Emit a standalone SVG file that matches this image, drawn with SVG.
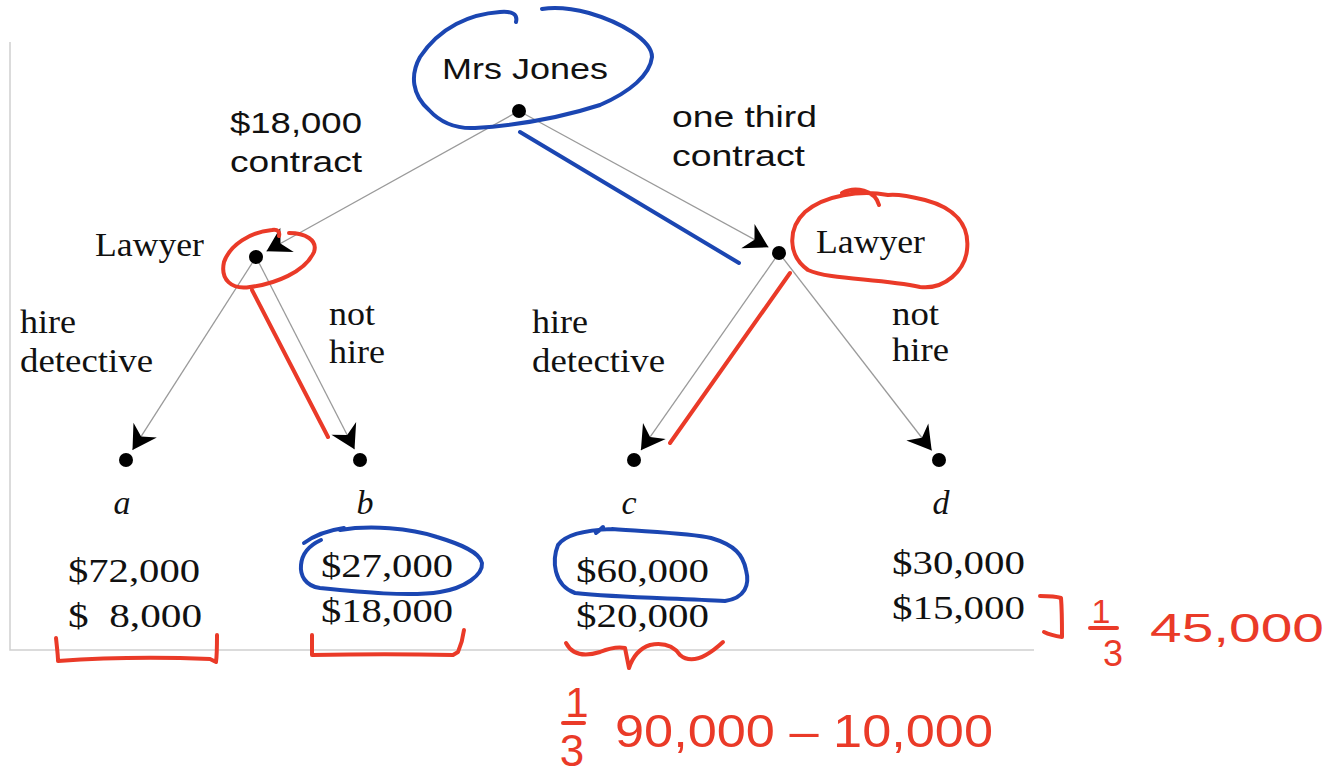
<svg xmlns="http://www.w3.org/2000/svg" width="1328" height="778" viewBox="0 0 1328 778">
<style>
.sans{font-family:"Liberation Sans",Arial,sans-serif;font-size:30px;fill:#111}
.serif{font-family:"Liberation Serif","Times New Roman",serif;font-size:34px;fill:#111}
.ital{font-family:"Liberation Serif","Times New Roman",serif;font-size:34px;font-style:italic;fill:#111}
.edge{stroke:#9a9a9a;stroke-width:1.3;fill:none;marker-end:url(#arr)}
.dot{fill:#000}
.frame{stroke:#d0d0d0;stroke-width:1.5;fill:none}
.blue{stroke:#1b46b2;stroke-width:4;fill:none;stroke-linecap:round;stroke-linejoin:round}
.red{stroke:#ea3a28;stroke-width:4;fill:none;stroke-linecap:round;stroke-linejoin:round}
.hand{font-family:"Liberation Sans",Arial,sans-serif;fill:#ea3a28}
</style>
<defs>
<marker id="arr" markerUnits="userSpaceOnUse" markerWidth="28" markerHeight="32" viewBox="-24 -15 26 30" refX="0" refY="0" orient="auto">
<path d="M0,0 L-22,-13 L-15,0 L-22,13 Z" fill="#000"/>
</marker>
</defs>
<rect width="1328" height="778" fill="#fff"/>
<path class="frame" d="M10,42 L10,650 L1034,650"/>

<g id="connectors">
<path class="edge" d="M519,111 L266.5,251.2"/>
<path class="edge" d="M519,111 L768.5,247.3"/>
<path class="edge" d="M256,257 L132.5,449.9"/>
<path class="edge" d="M256,257 L354.5,449.3"/>
<path class="edge" d="M779,253 L640.9,450.2"/>
<path class="edge" d="M779,253 L931.7,450.5"/>
</g>

<g id="root">
<circle class="dot" cx="519" cy="111" r="7"/>
<text class="sans" x="442" y="79" textLength="166" lengthAdjust="spacingAndGlyphs">Mrs Jones</text>
</g>
<g id="label-18000">
<text class="sans" x="230" y="133" textLength="132" lengthAdjust="spacingAndGlyphs">$18,000</text>
<text class="sans" x="230" y="172" textLength="132" lengthAdjust="spacingAndGlyphs">contract</text>
</g>
<g id="label-onethird">
<text class="sans" x="672" y="127" textLength="145" lengthAdjust="spacingAndGlyphs">one third</text>
<text class="sans" x="672" y="166" textLength="133" lengthAdjust="spacingAndGlyphs">contract</text>
</g>
<g id="lawyer-left">
<circle class="dot" cx="256" cy="257" r="7"/>
<text class="serif" x="95" y="256" textLength="109" lengthAdjust="spacingAndGlyphs">Lawyer</text>
</g>
<g id="lawyer-right">
<circle class="dot" cx="779" cy="253" r="7"/>
<text class="serif" x="816" y="253" textLength="109" lengthAdjust="spacingAndGlyphs">Lawyer</text>
</g>
<g id="edge-labels">
<text class="serif" x="20" y="333" textLength="56" lengthAdjust="spacingAndGlyphs">hire</text>
<text class="serif" x="20" y="372" textLength="133" lengthAdjust="spacingAndGlyphs">detective</text>
<text class="serif" x="329" y="325" textLength="46" lengthAdjust="spacingAndGlyphs">not</text>
<text class="serif" x="329" y="363" textLength="56" lengthAdjust="spacingAndGlyphs">hire</text>
<text class="serif" x="532" y="333" textLength="56" lengthAdjust="spacingAndGlyphs">hire</text>
<text class="serif" x="532" y="372" textLength="133" lengthAdjust="spacingAndGlyphs">detective</text>
<text class="serif" x="892" y="325" textLength="47" lengthAdjust="spacingAndGlyphs">not</text>
<text class="serif" x="892" y="361" textLength="57" lengthAdjust="spacingAndGlyphs">hire</text>
</g>
<g id="leaf-a">
<circle class="dot" cx="126" cy="460" r="7"/>
<text class="ital" x="122" y="514" text-anchor="middle">a</text>
<text class="serif" x="68" y="582" textLength="132" lengthAdjust="spacingAndGlyphs">$72,000</text>
<text class="serif" x="68" y="627" textLength="134" lengthAdjust="spacingAndGlyphs" xml:space="preserve">$  8,000</text>
</g>
<g id="leaf-b">
<circle class="dot" cx="360" cy="460" r="7"/>
<text class="ital" x="365" y="514" text-anchor="middle">b</text>
<text class="serif" x="321" y="577" textLength="132" lengthAdjust="spacingAndGlyphs">$27,000</text>
<text class="serif" x="321" y="622" textLength="132" lengthAdjust="spacingAndGlyphs">$18,000</text>
</g>
<g id="leaf-c">
<circle class="dot" cx="634" cy="460" r="7"/>
<text class="ital" x="629" y="514" text-anchor="middle">c</text>
<text class="serif" x="576" y="582" textLength="133" lengthAdjust="spacingAndGlyphs">$60,000</text>
<text class="serif" x="576" y="627" textLength="133" lengthAdjust="spacingAndGlyphs">$20,000</text>
</g>
<g id="leaf-d">
<circle class="dot" cx="939" cy="460" r="7"/>
<text class="ital" x="941" y="514" text-anchor="middle">d</text>
<text class="serif" x="892" y="574" textLength="133" lengthAdjust="spacingAndGlyphs">$30,000</text>
<text class="serif" x="892" y="619" textLength="133" lengthAdjust="spacingAndGlyphs">$15,000</text>
</g>

<g id="annotations">
<path class="blue" d="M516,22 C518,14 512,11 500,12 C470,14 440,27 420,57 C410,75 412,95 429,110 C440,122 455,129 475,128 C520,125 560,118 600,105 C630,92 650,75 652,57 C652,40 620,22 589,13 C570,8 555,7 542,9"/>
<path class="blue" d="M520,132 L739,263"/>
<path class="blue" d="M304,543 C315,535 330,530 344,528 M340,530 C370,525 410,528 437,537 C460,544 480,552 482,563 C483,575 465,588 440,592 C410,597 360,592 320,588 C305,586 300,575 301,565 C302,553 310,545 321,540"/>
<path class="blue" d="M612,529 C585,530 565,535 558,545 C552,560 553,585 575,593 C620,598 680,598 725,601 C745,598 750,585 746,570 C743,555 735,545 711,538 C690,533 650,532 612,529 M596,533 C600,530 602,528 603,527"/>
<path class="red" d="M279,236 C280,232 278,229 272,230 C250,232 230,245 224,262 C220,280 232,290 250,287 C275,284 305,272 314,252 C318,240 305,233 289,233"/>
<path class="red" d="M842,193 C855,186 875,190 879,205 M888,195 C860,190 825,195 805,212 C788,228 787,255 808,270 C830,280 880,278 920,287 C945,290 965,270 967,250 C970,225 955,208 925,200 C905,195 895,194 888,195"/>
<path class="red" d="M252,290 L328,437"/>
<path class="red" d="M790,273 L670,443"/>
<path class="red" d="M56,638 C57,648 58,655 58,661 C100,658 160,657 210,659 L216,662 C217,655 217,645 217,635"/>
<path class="red" d="M312,635 C312,642 312,650 312,655 C360,654 410,654 453,655 L458,652 C461,645 463,638 464,630"/>
<path class="red" d="M566,643 Q575,660 600,652 Q615,646 625,648 L629,668 Q635,650 650,645 Q670,641 680,655 Q695,668 723,642"/>
<path class="red" d="M1040,596 C1050,596 1058,597 1061,598 C1062,610 1062,625 1062,637 C1055,636 1048,634 1044,632"/>
<text class="hand" x="1101" y="623" font-size="34" text-anchor="middle">1</text>
<path class="red" d="M1090,628 L1117,628"/>
<text class="hand" x="1113" y="666" font-size="36" text-anchor="middle">3</text>
<text class="hand" x="1150" y="642" font-size="40" textLength="174" lengthAdjust="spacingAndGlyphs">45,000</text>
<text class="hand" x="577" y="717" font-size="42" text-anchor="middle">1</text>
<path class="red" d="M563,723 L584,723"/>
<text class="hand" x="572" y="766" font-size="44" text-anchor="middle">3</text>
<text class="hand" x="615" y="747" font-size="46" textLength="378" lengthAdjust="spacingAndGlyphs">90,000 – 10,000</text>
</g>
</svg>
